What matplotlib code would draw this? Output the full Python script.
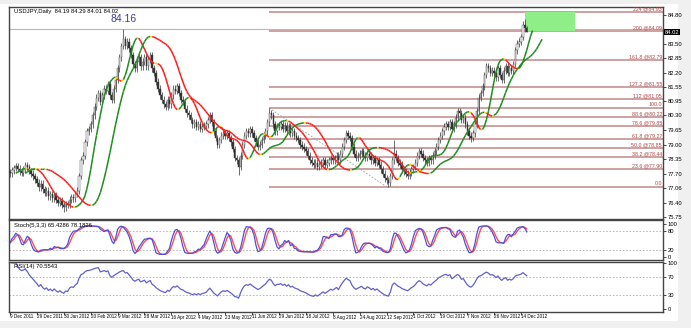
import numpy as np
import pandas as pd
import matplotlib
matplotlib.use("Agg")
import matplotlib.pyplot as plt
import matplotlib.transforms as mtransforms
from matplotlib.collections import LineCollection
from matplotlib.patches import Rectangle

plt.rcParams["font.family"] = ["Liberation Sans", "DejaVu Sans"]

# ---- data ----
header_text = "USDJPY,Daily  84.19 84.29 84.01 84.02"
date_labels = ["9 Dec 2011", "29 Dec 2011", "30 Jan 2012", "20 Feb 2012", "9 Mar 2012",
               "28 Mar 2012", "16 Apr 2012", "4 May 2012", "23 May 2012", "11 Jun 2012",
               "29 Jun 2012", "18 Jul 2012", "8 Aug 2012", "24 Aug 2012", "12 Sep 2012",
               "1 Oct 2012", "19 Oct 2012", "7 Nov 2012", "26 Nov 2012", "14 Dec 2012"]
bars_per_label = 14

# daily closes, one row per date label
closes = [
    77.72, 77.85, 77.95, 78.05, 77.92, 77.80, 77.74, 77.90, 78.08, 77.98, 77.82, 77.70, 77.58, 77.45,
    77.30, 77.10, 77.25, 77.00, 76.85, 76.95, 76.70, 76.80, 76.60, 76.75, 76.55, 76.40, 76.50, 76.30,
    76.20, 76.35, 76.30, 76.55, 76.65, 76.60, 76.80, 76.95, 77.60, 78.30, 78.50, 79.10, 79.60, 79.70,
    79.90, 80.30, 80.70, 81.10, 81.30, 80.90, 81.20, 81.50, 81.40, 81.70, 81.20, 81.00, 81.50, 81.90,
    82.40, 82.90, 83.40, 83.70, 83.40, 83.60, 83.30, 83.00, 82.60, 82.40, 82.70, 82.90, 82.50, 82.70,
    82.90, 82.50, 82.80, 83.00, 82.40, 82.20, 81.80, 81.50, 81.20, 81.00, 80.80, 80.70, 81.00, 80.80,
    81.20, 81.50, 81.40, 81.60, 81.30, 81.00, 80.90, 80.60, 80.40, 80.30, 80.10, 79.90, 80.00, 79.80,
    79.90, 79.70, 79.80, 79.85, 79.90, 80.10, 80.30, 80.00, 79.60, 79.30, 79.00, 79.20, 79.40, 79.50,
    79.40, 79.50, 79.30, 79.10, 78.80, 78.40, 78.30, 78.00, 78.50, 79.00, 79.40, 79.60, 79.50, 79.70,
    79.50, 79.30, 79.10, 78.90, 79.00, 79.20, 79.40, 79.60, 80.00, 80.40, 80.30, 79.90, 79.60, 79.80,
    79.80, 79.90, 79.70, 79.85, 79.60, 79.80, 79.50, 79.60, 79.40, 79.30, 79.20, 79.00, 78.90, 78.80,
    78.70, 78.50, 78.30, 78.20, 78.10, 78.20, 78.00, 78.10, 78.20, 78.30, 78.10, 78.20, 78.30, 78.40,
    78.30, 78.40, 78.50, 78.30, 78.60, 78.90, 79.20, 79.50, 79.40, 79.30, 78.90, 78.60, 78.40, 78.50,
    78.60, 78.70, 78.50, 78.40, 78.60, 78.50, 78.30, 78.40, 78.20, 78.30, 78.10, 77.90, 77.70, 77.50,
    77.40, 77.30, 77.60, 78.30, 78.60, 78.40, 78.20, 78.10, 77.90, 77.80, 77.70, 77.60, 77.75, 77.90,
    78.00, 78.20, 78.50, 78.70, 78.60, 78.40, 78.30, 78.20, 78.40, 78.30, 78.50, 78.70, 78.90, 79.20,
    79.40, 79.60, 79.80, 79.90, 79.80, 80.00, 79.70, 79.90, 80.20, 80.50, 80.40, 80.10, 80.20, 79.90,
    79.60, 79.40, 79.30, 79.50, 79.90, 80.50, 81.10, 81.30, 81.60, 82.10, 82.50, 82.40, 82.20, 82.30,
    82.20, 82.00, 82.40, 82.10, 81.90, 82.30, 82.50, 82.20, 82.40, 82.30, 82.60, 83.20, 83.50, 83.60,
    83.80, 84.35, 84.19, 84.02,
]

# bars with wicks that stand out
spike_bars = [28, 59, 119, 135, 197, 200, 233, 240, 268, 269]
spike_highs = [None, 84.16, None, 80.63, None, 79.20, 80.65, None, 84.62, 84.29]
spike_lows = [75.99, None, 77.65, None, 77.12, None, None, 79.10, None, 84.01]

peak_price = 84.16
fib_names = ["224", "200", "161.8", "127.2", "112", "100.0", "88.6", "78.6",
             "61.8", "50.0", "38.2", "23.6", "0.0"]
fib_prices = [84.93, 84.09, 82.79, 81.55, 81.05, 80.63, 80.22, 79.85,
              79.27, 78.85, 78.44, 77.90, 77.12]
fib_start_bar = 135
fib_end_bar = 196
target_zone = (84.09, 84.93)
target_bars = (268, 294)

price_ticks = [84.80, 84.15, 83.50, 82.85, 82.20, 81.55, 80.95, 80.30, 79.65,
               79.00, 78.35, 77.70, 77.06, 76.40, 75.75]
last_price = 84.02

# ---- derived OHLC ----
closes = np.array(closes)
n = len(closes)
idx = np.arange(n)
opens = np.concatenate([[closes[0] + 0.05], closes[:-1]])
highs = np.maximum(opens, closes) + 0.15
lows = np.minimum(opens, closes) - 0.15
for b, h, l in zip(spike_bars, spike_highs, spike_lows):
    if h is not None:
        highs[b] = h
    if l is not None:
        lows[b] = l


def wma(x, p):
    # weighted moving average, using a shorter window at the start of the data
    x = np.asarray(x, dtype=float)
    out = np.empty(len(x))
    for i in range(len(x)):
        win = x[max(0, i - p + 1):i + 1]
        w = np.arange(1, len(win) + 1)
        out[i] = np.dot(win, w) / w.sum()
    return out


def hma(x, p):
    raw = 2 * wma(x, p // 2) - wma(x, p)
    return wma(raw, int(np.sqrt(p)))


def colored_line(ax, xs, ys):
    pts = np.column_stack([xs, ys])
    segs = np.stack([pts[:-1], pts[1:]], axis=1)
    up = np.diff(ys) > 0
    cols = []
    for i, u in enumerate(up):
        if i > 0 and u != up[i - 1]:
            cols.append("#ffd700")
        else:
            cols.append("#1e8c1e" if u else "#ff1a1a")
    ax.add_collection(LineCollection(segs, colors=cols, linewidths=1.1, zorder=4))


# stochastic 5,3,3 and rsi 14
s = pd.Series(closes)
ll = pd.Series(lows).rolling(5, min_periods=1).min()
hh = pd.Series(highs).rolling(5, min_periods=1).max()
stoch_k = ((s - ll).rolling(3, min_periods=1).sum() / (hh - ll).rolling(3, min_periods=1).sum() * 100).values
stoch_d = pd.Series(stoch_k).rolling(3, min_periods=1).mean().values
delta = s.diff()
gain = delta.clip(lower=0).ewm(alpha=1 / 14, adjust=False).mean()
loss = (-delta.clip(upper=0)).ewm(alpha=1 / 14, adjust=False).mean()
rsi = (100 - 100 / (1 + gain / loss)).values

# ---- layout ----
W, H = 691, 328
fig = plt.figure(figsize=(W / 100, H / 100), dpi=100, facecolor="#f0f0f0")
fig.patches.append(Rectangle((0, 1 - 321 / H), 678 / W, 317 / H, transform=fig.transFigure,
                             facecolor="white", edgecolor="none", zorder=-10))

left, right = 9, 663
px_bar = 1.921
xlim = (-(10 - left) / px_bar, (right - 10) / px_bar)


def panel(top, bottom):
    return fig.add_axes([left / W, 1 - bottom / H, (right - left) / W, (bottom - top) / H])


ax = panel(7, 219)
ax_st = panel(220, 260)
ax_rsi = panel(262, 312)

for a in (ax, ax_st, ax_rsi):
    a.set_xlim(*xlim)
    a.set_facecolor("white")
    for sp in a.spines.values():
        sp.set_color("#444444")
        sp.set_linewidth(1.0)
    a.yaxis.tick_right()
    a.tick_params(axis="y", labelsize=4.2, length=2, width=0.5, pad=1.5, colors="black")
    a.tick_params(axis="x", length=0, labelbottom=False)

# ---- main price panel ----
ax.set_ylim(75.68, 85.14)
ax.set_yticks(price_ticks)
# the 84.15 label sits under the last-price box
ax.set_yticklabels(["" if v == 84.15 else f"{v:.2f}" for v in price_ticks])

ax.axhline(peak_price, color="#b8b8b8", lw=0.8, zorder=1)
ax.text(59, 84.40, f"{peak_price:.2f}", color="#3a3aa8", fontsize=7.5, ha="center", va="bottom")

for name, price in zip(fib_names, fib_prices):
    ax.hlines(price, fib_start_bar, xlim[1], color="#cc9a9a", lw=1.3, zorder=1)
    label = name if name in ("100.0", "0.0") else f"{name} @{price:.2f}"
    ax.text(xlim[1] - 0.5, price + 0.03, label, color="#b04545", fontsize=3.8, ha="right", va="bottom")
ax.plot([fib_start_bar, fib_end_bar], [fib_prices[5], fib_prices[-1]], color="#a0a0a0",
        lw=0.6, ls=(0, (2, 2)), zorder=1)

ax.add_patch(Rectangle((target_bars[0], target_zone[0]), target_bars[1] - target_bars[0],
                       target_zone[1] - target_zone[0], facecolor="#90ee88", edgecolor="none", zorder=2))

# candles
ax.vlines(idx, lows, highs, color="#333333", lw=0.5, zorder=3)
up = closes >= opens
body_lo = np.minimum(opens, closes)
body_h = np.maximum(np.abs(closes - opens), 0.02)
ax.bar(idx[up], body_h[up], bottom=body_lo[up], width=0.7, color="white", edgecolor="#333333",
       linewidth=0.3, zorder=3)
ax.bar(idx[~up], body_h[~up], bottom=body_lo[~up], width=0.7, color="#333333", edgecolor="#333333",
       linewidth=0.3, zorder=3)

# two colour-by-slope moving averages
colored_line(ax, idx + 3.0, hma(closes, 20))
colored_line(ax, idx + 8.0, hma(closes, 40))

ax.text(2, 84.95, header_text, fontsize=4.2, color="black", va="center")
trans = mtransforms.blended_transform_factory(ax.transAxes, ax.transData)
ax.text(1.003, last_price, f"{last_price:.2f}", transform=trans, fontsize=4.2, color="white",
        va="center", ha="left", bbox=dict(boxstyle="square,pad=0.15", fc="black", ec="none"), zorder=6)

# ---- stochastic ----
ax_st.set_ylim(-8.8, 111.8)
ax_st.set_yticks([100, 80, 20, 0])
for lvl in (80, 20):
    ax_st.axhline(lvl, color="#b0b0b0", lw=0.6, ls=(0, (2, 2)))
ax_st.plot(idx, stoch_d, color="#ff5050", lw=1.0)
ax_st.plot(idx, stoch_k, color="#5050dd", lw=0.9)
ax_st.text(2, 104, "Stoch(5,3,3) 65.4286 78.1826", fontsize=4.2, va="top")

# ---- rsi ----
ax_rsi.set_ylim(-6.5, 102)
ax_rsi.set_yticks([100, 70, 30, 0])
for lvl in (70, 30):
    ax_rsi.axhline(lvl, color="#b0b0b0", lw=0.6, ls=(0, (2, 2)))
ax_rsi.plot(idx, rsi, color="#6060cc", lw=0.9)
ax_rsi.text(2, 97, "RSI(14) 70.5543", fontsize=4.2, va="top")

tick_pos = [i * bars_per_label for i in range(len(date_labels))]
ax_rsi.set_xticks(tick_pos)
ax_rsi.tick_params(axis="x", length=2, width=0.5, direction="out")
xtrans = mtransforms.blended_transform_factory(ax_rsi.transData, ax_rsi.transAxes)
for p, lab in zip(tick_pos, date_labels):
    ax_rsi.text(p, -0.05, lab, transform=xtrans, fontsize=3.3, ha="left", va="top")

fig.savefig("out.png", dpi=100, facecolor=fig.get_facecolor())
